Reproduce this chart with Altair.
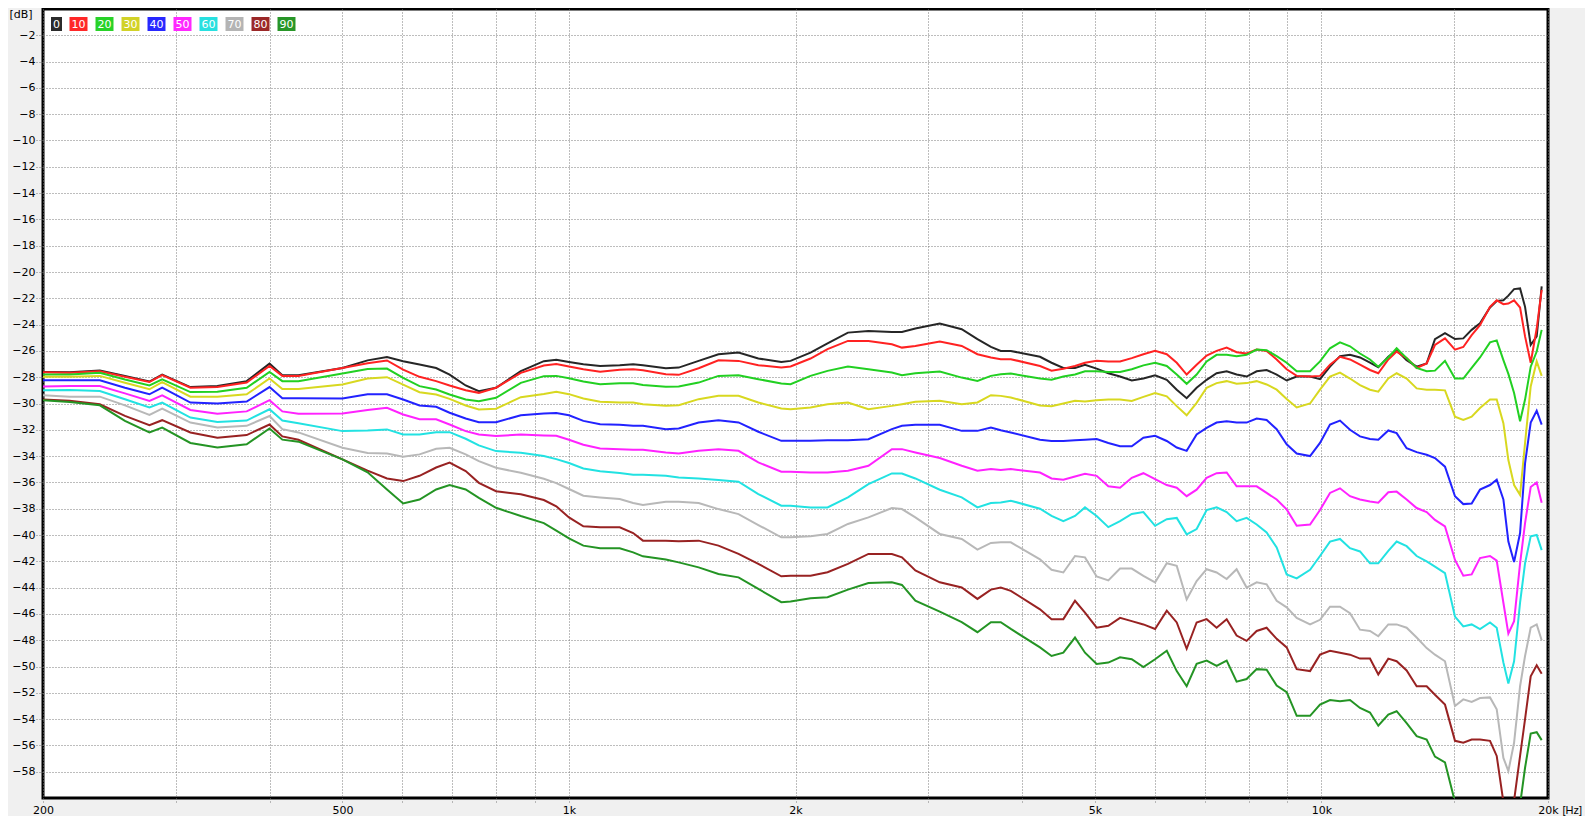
import altair as alt
import pandas as pd

# ---------------- data ----------------
freqs = [200, 217, 238, 257, 277, 288, 314, 341, 373, 400, 416, 437, 500, 540, 573, 602, 633, 666, 694, 729,
         759, 800, 863, 926, 962, 1000, 1045, 1100, 1168, 1217, 1254, 1345, 1399, 1487, 1580, 1680, 1785, 1915,
         1970, 2094, 2206, 2348, 2500, 2686, 2770, 2886, 3110, 3326, 3490, 3637, 3748, 3865, 4226, 4378, 4539,
         4704, 4850, 5026, 5209, 5399, 5596, 5799, 6010, 6229, 6422, 6620, 6825, 7037, 7255, 7482, 7713, 7953,
         8201, 8455, 8719, 8990, 9270, 9657, 9955, 10264, 10583, 10912, 11251, 11600, 11899, 12269, 12586,
         12977, 13381, 13797, 14152, 14593, 15046, 15434, 15834, 16243, 16748, 17095, 17448, 17716, 18028,
         18362, 18644, 18969, 19320, 19617]

db_0 = [-27.6, -27.62, -27.5, -27.9, -28.33, -27.8, -28.75, -28.67, -28.3, -26.97, -27.85, -27.85, -27.3, -26.72,
        -26.46, -26.78, -27.04, -27.3, -27.8, -28.63, -29.06, -28.8, -27.54, -26.78, -26.68, -26.84, -27.01, -27.14,
        -27.09, -27.01, -27.09, -27.32, -27.27, -26.76, -26.25, -26.13, -26.58, -26.84, -26.76, -26.13, -25.42,
        -24.61, -24.48, -24.56, -24.56, -24.3, -23.92, -24.35, -25.11, -25.7, -26.0, -26.0, -26.45, -26.9, -27.3,
        -27.3, -27.05, -27.35, -27.7, -27.95, -28.25, -28.1, -27.85, -28.2, -28.95, -29.6, -28.8, -28.2, -27.7,
        -27.55, -27.8, -27.95, -27.55, -27.45, -27.8, -28.25, -27.95, -27.95, -28.15, -27.2, -26.4, -26.3, -26.5,
        -26.9, -27.25, -26.45, -25.95, -26.7, -27.2, -26.95, -25.1, -24.65, -25.1, -25.05, -24.4, -23.9, -22.7,
        -22.2, -22.15, -21.8, -21.3, -21.25, -22.65, -25.55, -24.9, -21.1]
db_10 = [-27.62, -27.66, -27.54, -27.96, -28.37, -27.84, -28.8, -28.75, -28.4, -27.15, -27.9, -27.9, -27.3, -26.94,
         -26.73, -27.42, -27.97, -28.3, -28.63, -28.99, -29.19, -28.8, -27.67, -27.11, -27.0, -27.19, -27.39, -27.59,
         -27.44, -27.39, -27.47, -27.77, -27.82, -27.32, -26.71, -26.76, -27.09, -27.27, -27.19, -26.58, -25.87,
         -25.24, -25.24, -25.49, -25.75, -25.62, -25.29, -25.62, -26.25, -26.5, -26.63, -26.63, -27.15, -27.5,
         -27.35, -27.15, -26.9, -26.75, -26.8, -26.8, -26.55, -26.25, -26.0, -26.25, -26.9, -27.8, -27.05, -26.35,
         -26.0, -25.75, -26.1, -26.2, -25.9, -26.0, -26.65, -27.4, -27.9, -27.95, -27.9, -27.05, -26.45, -26.65,
         -27.05, -27.45, -27.7, -26.65, -26.05, -26.55, -27.3, -26.95, -25.55, -25.05, -25.9, -25.7, -24.8, -24.05,
         -22.65, -22.15, -22.45, -22.4, -22.15, -22.7, -24.9, -26.9, -24.3, -21.35]
db_20 = [-27.8, -27.79, -27.66, -28.17, -28.62, -28.17, -29.13, -29.1, -28.8, -27.6, -28.3, -28.3, -27.72, -27.38,
         -27.34, -28.05, -28.68, -28.94, -29.32, -29.7, -29.82, -29.57, -28.43, -27.92, -27.9, -28.08, -28.33, -28.53,
         -28.46, -28.46, -28.6, -28.73, -28.71, -28.41, -27.9, -27.85, -28.15, -28.48, -28.53, -27.9, -27.52, -27.19,
         -27.39, -27.65, -27.85, -27.7, -27.57, -28.03, -28.28, -27.9, -27.77, -27.72, -28.1, -28.2, -27.95, -27.8,
         -27.55, -27.55, -27.6, -27.6, -27.4, -27.1, -26.9, -27.15, -27.8, -28.5, -27.8, -26.8, -26.3, -26.3, -26.4,
         -26.3, -25.9, -25.95, -26.4, -26.9, -27.55, -27.55, -26.8, -25.8, -25.35, -25.65, -26.2, -26.65, -27.2,
         -26.5, -25.8, -26.55, -27.3, -27.55, -27.5, -26.75, -28.1, -28.1, -27.3, -26.5, -25.35, -25.2, -26.7,
         -27.75, -29.2, -31.35, -29.7, -27.2, -26.05, -24.4]
db_30 = [-27.97, -27.96, -27.9, -28.42, -28.92, -28.37, -29.48, -29.48, -29.3, -28.1, -28.9, -28.9, -28.56, -28.1,
         -28.0, -28.56, -29.14, -29.32, -29.65, -30.15, -30.46, -30.4, -29.52, -29.27, -29.11, -29.29, -29.62, -29.87,
         -29.92, -29.92, -30.05, -30.18, -30.13, -29.67, -29.42, -29.42, -29.92, -30.38, -30.43, -30.3, -30.05,
         -29.92, -30.43, -30.18, -30.05, -29.87, -29.8, -30.05, -29.92, -29.37, -29.42, -29.54, -30.15, -30.2, -30.0,
         -29.8, -29.85, -29.75, -29.7, -29.7, -29.8, -29.5, -29.2, -29.45, -30.2, -30.9, -29.95, -28.8, -28.45,
         -28.3, -28.5, -28.45, -28.3, -28.55, -28.95, -29.65, -30.3, -30.0, -28.95, -27.95, -27.65, -28.1, -28.6,
         -28.95, -29.1, -28.1, -27.7, -28.1, -28.85, -28.95, -28.95, -29.0, -31.0, -31.25, -31.0, -30.35, -29.7,
         -29.7, -31.5, -34.3, -36.2, -36.95, -33.0, -28.7, -26.8, -27.9]
db_40 = [-28.23, -28.24, -28.24, -28.8, -29.3, -28.8, -29.93, -30.0, -29.85, -28.75, -29.6, -29.6, -29.62, -29.3,
         -29.3, -29.7, -30.15, -30.25, -30.7, -31.14, -31.42, -31.42, -30.9, -30.76, -30.73, -30.89, -31.32, -31.57,
         -31.62, -31.7, -31.7, -31.95, -31.9, -31.44, -31.27, -31.44, -32.15, -32.84, -32.84, -32.84, -32.79,
         -32.79, -32.71, -31.95, -31.7, -31.62, -31.62, -32.08, -32.08, -31.82, -32.03, -32.2, -32.75, -32.85,
         -32.85, -32.8, -32.75, -32.7, -33.0, -33.25, -33.25, -32.6, -32.45, -32.85, -33.35, -33.6, -32.35, -31.85,
         -31.45, -31.35, -31.45, -31.45, -31.15, -31.25, -31.95, -33.1, -33.8, -34.0, -33.0, -31.6, -31.3, -32.0,
         -32.5, -32.7, -32.75, -32.05, -32.25, -33.4, -33.7, -33.9, -34.15, -34.8, -37.05, -37.65, -37.6, -36.55,
         -36.2, -35.8, -37.3, -40.5, -42.05, -39.85, -34.55, -31.45, -30.55, -31.6]
db_50 = [-28.71, -28.67, -28.67, -29.23, -29.8, -29.38, -30.49, -30.77, -30.6, -29.75, -30.6, -30.77, -30.76, -30.5,
         -30.33, -30.84, -31.2, -31.2, -31.6, -32.1, -32.35, -32.48, -32.35, -32.43, -32.46, -32.76, -33.14, -33.42,
         -33.47, -33.52, -33.52, -33.72, -33.8, -33.6, -33.47, -33.6, -34.48, -35.19, -35.19, -35.24, -35.24, -35.11,
         -34.73, -33.47, -33.47, -33.72, -34.15, -34.73, -35.11, -34.99, -35.06, -34.99, -35.25, -35.7, -35.8,
         -35.55, -35.35, -35.5, -36.3, -36.4, -35.65, -35.3, -35.75, -36.2, -36.4, -37.05, -36.55, -35.65, -35.3,
         -35.25, -36.3, -36.3, -36.3, -36.8, -37.3, -38.05, -39.3, -39.2, -38.1, -36.8, -36.45, -37.05, -37.3,
         -37.45, -37.55, -36.75, -36.7, -37.3, -37.95, -38.25, -38.85, -39.35, -41.9, -43.1, -43.0, -41.75, -41.6,
         -41.95, -45.15, -47.5, -46.55, -42.15, -39.1, -36.35, -36.0, -37.55]
db_60 = [-28.99, -28.97, -29.05, -29.68, -30.3, -29.93, -31.07, -31.4, -31.3, -30.44, -31.3, -31.5, -32.1, -32.05,
         -31.97, -32.35, -32.35, -32.18, -32.18, -32.68, -33.19, -33.62, -33.75, -34.0, -34.23, -34.53, -34.94,
         -35.16, -35.29, -35.42, -35.42, -35.49, -35.62, -35.7, -35.82, -35.95, -36.89, -37.77, -37.77, -37.9,
         -37.9, -37.14, -36.13, -35.32, -35.32, -35.7, -36.56, -37.14, -37.9, -37.57, -37.52, -37.39, -38.0, -38.55,
         -38.95, -38.55, -37.9, -38.55, -39.4, -38.95, -38.4, -38.25, -39.3, -38.8, -38.7, -39.95, -39.55, -38.1,
         -37.9, -38.25, -38.95, -38.7, -39.2, -39.8, -40.95, -43.0, -43.3, -42.65, -41.6, -40.5, -40.3, -41.0,
         -41.25, -42.15, -42.15, -41.2, -40.5, -40.85, -41.6, -42.0, -42.4, -42.9, -46.2, -46.95, -46.8, -47.15,
         -46.65, -47.05, -49.7, -51.3, -49.6, -45.15, -42.15, -40.1, -40.0, -41.15]
db_70 = [-29.37, -29.48, -29.48, -30.14, -30.87, -30.39, -31.45, -31.83, -31.7, -30.95, -31.95, -32.2, -33.37, -33.77,
         -33.8, -34.05, -33.87, -33.44, -33.37, -33.87, -34.38, -34.89, -35.27, -35.72, -36.05, -36.5, -37.01,
         -37.14, -37.27, -37.57, -37.72, -37.47, -37.47, -37.57, -38.03, -38.41, -39.24, -40.18, -40.18, -40.1,
         -39.92, -39.16, -38.66, -37.95, -38.03, -38.66, -39.92, -40.3, -41.11, -40.6, -40.56, -40.56, -41.85,
         -42.65, -42.85, -41.6, -41.7, -43.15, -43.45, -42.55, -42.55, -43.1, -43.6, -42.15, -42.35, -44.9, -43.5,
         -42.6, -42.85, -43.35, -42.6, -44.0, -43.6, -43.75, -45.0, -45.5, -46.3, -46.8, -46.45, -45.45, -45.45,
         -45.95, -47.2, -47.3, -47.7, -46.8, -46.8, -47.05, -47.8, -48.6, -49.1, -49.6, -53.0, -52.5, -52.7, -52.4,
         -52.35, -53.25, -56.95, -57.95, -55.8, -51.5, -49.2, -47.05, -46.8, -48.0]
db_80 = [-29.7, -29.8, -30.06, -30.94, -31.65, -31.27, -32.2, -32.6, -32.4, -31.6, -32.5, -32.76, -34.25, -35.1,
         -35.7, -35.9, -35.5, -34.87, -34.5, -35.14, -36.03, -36.67, -36.9, -37.34, -37.82, -38.66, -39.34, -39.42,
         -39.42, -39.85, -40.43, -40.43, -40.48, -40.43, -40.81, -41.44, -42.2, -43.14, -43.09, -43.09, -42.83,
         -42.2, -41.44, -41.44, -41.7, -42.7, -43.6, -43.99, -44.86, -44.15, -43.99, -44.25, -45.65, -46.4, -46.4,
         -45.0, -45.9, -47.05, -46.9, -46.3, -46.55, -46.8, -47.15, -45.75, -46.65, -48.65, -46.65, -46.4, -47.05,
         -46.4, -47.65, -48.05, -47.3, -47.05, -47.9, -48.55, -50.2, -50.35, -49.1, -48.8, -48.95, -49.1, -49.4,
         -49.4, -50.6, -49.4, -49.6, -50.3, -51.5, -51.5, -52.15, -52.9, -55.65, -55.8, -55.55, -55.55, -55.65,
         -56.8, -60.3, -63.0, -60.2, -56.8, -54.0, -50.75, -49.9, -50.55]
db_90 = [-29.75, -29.88, -30.14, -31.32, -32.2, -31.83, -33.0, -33.35, -33.1, -31.9, -32.75, -32.9, -34.25, -35.23,
         -36.54, -37.6, -37.3, -36.54, -36.2, -36.54, -37.17, -37.93, -38.56, -39.1, -39.67, -40.25, -40.81, -41.01,
         -41.01, -41.32, -41.62, -41.87, -42.08, -42.46, -42.96, -43.22, -44.1, -45.11, -45.06, -44.81, -44.73,
         -44.15, -43.65, -43.6, -43.8, -44.99, -45.82, -46.63, -47.39, -46.63, -46.63, -47.14, -48.55, -49.2,
         -48.95, -47.8, -48.95, -49.8, -49.7, -49.3, -49.45, -50.05, -49.45, -48.8, -50.35, -51.5, -49.8, -49.55,
         -49.95, -49.55, -51.15, -50.95, -50.2, -50.25, -51.45, -51.95, -53.75, -53.75, -52.9, -52.55, -52.65,
         -52.55, -53.15, -53.5, -54.5, -53.65, -53.4, -54.3, -55.3, -55.55, -56.85, -57.3, -60.3, -63.0, -65.0,
         -66.0, -66.0, -65.0, -64.0, -64.0, -63.0, -60.5, -57.7, -55.1, -55.0, -55.6]

series_names = ["0", "10", "20", "30", "40", "50", "60", "70", "80", "90"]
series_colors = ["#262626", "#ff2222", "#22d022", "#d8d820", "#2222ff", "#ff22ff", "#22e2e2", "#b8b8b8",
                 "#982222", "#249424"]
legend_colors = ["#2b2b2b", "#ff2828", "#28d228", "#d2d228", "#2828ff", "#ff28ff", "#28e0e0", "#b4b4b4",
                 "#9b2828", "#289628"]

grid_freqs = [300, 400, 500, 600, 700, 800, 900, 1000, 2000, 3000, 4000, 5000, 6000, 7000, 8000, 9000,
              10000, 15000]
x_label_values = [200, 500, 1000, 2000, 5000, 10000, 20000]
x_label_texts = ["200", "500", "1k", "2k", "5k", "10k", "20k"]
y_tick_values = [-58, -56, -54, -52, -50, -48, -46, -44, -42, -40, -38, -36, -34, -32, -30, -28, -26, -24,
                 -22, -20, -18, -16, -14, -12, -10, -8, -6, -4, -2]

# ---------------- tables ----------------
all_db = [db_0, db_10, db_20, db_30, db_40, db_50, db_60, db_70, db_80, db_90]
rows = []
for name, vals in zip(series_names, all_db):
    for f, v in zip(freqs, vals):
        rows.append({"freq": f, "db": v, "angle": name})
df = pd.DataFrame(rows)

legend_df = pd.DataFrame({"label": series_names, "color": legend_colors})

FONT = "DejaVu Sans"
TITLE_FONT = "Liberation Sans"
W, H = 1505, 789

x_axis_values = sorted(set(grid_freqs + x_label_values))
label_expr = " : ".join(f"datum.value == {v} ? '{t}'" for v, t in zip(x_label_values, x_label_texts)) + " : ''"

x_scale = alt.Scale(type="log", domain=[200, 20000], nice=False)
y_scale = alt.Scale(domain=[-60, 0], nice=False)

lines = alt.Chart(df).mark_line(strokeWidth=2, clip=True).encode(
    x=alt.X("freq:Q", scale=x_scale,
            axis=alt.Axis(values=x_axis_values, labelExpr=label_expr, grid=True, gridDash=[1, 2],
                          gridColor="#7a7a7a", gridOpacity=1, ticks=True, tickDash=[1, 2], tickColor="#7a7a7a",
                          tickSize=5, domain=False, labelPadding=1, labelFlush=False, labelOverlap=False,
                          labelFont=FONT, labelFontSize=11, labelColor="black",
                          title="[Hz]", titleFont=TITLE_FONT, titleFontSize=11, titleFontWeight="normal",
                          titleColor="black", titleAlign="left", titleBaseline="middle",
                          titleX=1519, titleY=12)),
    y=alt.Y("db:Q", scale=y_scale,
            axis=alt.Axis(values=y_tick_values, grid=True, gridDash=[1, 2], gridColor="#7a7a7a", gridOpacity=1,
                          ticks=True, tickDash=[1, 2], tickColor="#7a7a7a", tickSize=8, domain=False,
                          labelPadding=0, labelFont=FONT, labelFontSize=11, labelColor="black",
                          title="[dB]", titleFont=FONT, titleFontSize=11, titleFontWeight="normal",
                          titleColor="black", titleAngle=0, titleAlign="left", titleBaseline="top",
                          titleX=-34, titleY=-1)),
    color=alt.Color("angle:N", scale=alt.Scale(domain=series_names, range=series_colors), legend=None),
    order=alt.Order("freq:Q"),
)

legend_base = alt.Chart(legend_df).transform_window(
    idx="row_number()"
).transform_calculate(
    lx="datum.idx == 1 ? 8 : 26.5 + 26 * (datum.idx - 2)",
    rx="datum.idx == 1 ? 19 : 44.5 + 26 * (datum.idx - 2)",
    cx="(datum.idx == 1 ? 13.5 : 35.5 + 26 * (datum.idx - 2))",
)

legend_boxes = legend_base.mark_rect().encode(
    x=alt.X("lx:Q", scale=None, axis=None),
    x2="rx:Q",
    y=alt.value(8),
    y2=alt.value(22),
    color=alt.Color("color:N", scale=None, legend=None),
)
legend_text = legend_base.mark_text(color="white", font=FONT, fontSize=11, baseline="middle",
                                    align="center").encode(
    x=alt.X("cx:Q", scale=None, axis=None),
    y=alt.value(15.5),
    text="label:N",
)

chart = alt.layer(lines, legend_boxes, legend_text).properties(
    width=W, height=H,
    padding={"left": 35, "top": 1, "right": 37, "bottom": 18},
    autosize=alt.AutoSizeParams(type="none"),
    background="#f0f0f0",
).configure_view(fill="white", stroke="black", strokeWidth=3)

chart.save("out.html", embed_options={"renderer": "svg", "actions": False})
